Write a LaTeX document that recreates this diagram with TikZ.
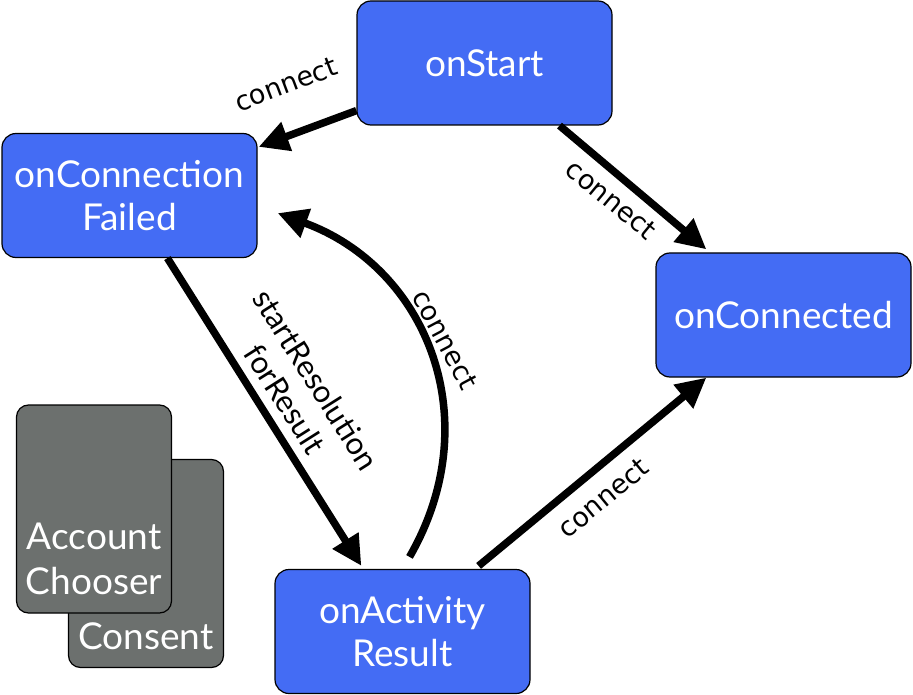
\documentclass[tikz,border=0pt]{standalone}
\usepackage{fontspec}
\setmainfont{Lato}
\newfontfamily\labelfont{DejaVu Sans}
\usetikzlibrary{arrows.meta, positioning}

\definecolor{stateblue}{RGB}{68,108,244}
\definecolor{cardgray}{RGB}{108,112,110}

\begin{document}
\begin{tikzpicture}[x=1pt, y=1pt,
  statebox/.style={draw=black, line width=1.2pt, fill=stateblue, rounded corners=14pt, minimum width=255pt, minimum height=124pt, text=white, font=\fontsize{37}{43}\selectfont, align=center},
  cardbox/.style={draw=black, line width=1.2pt, fill=cardgray, rounded corners=12pt, minimum width=155pt, minimum height=208pt},
  cardtext/.style={text=white, inner sep=0pt, font=\fontsize{37}{45}\selectfont, align=center},
  flow/.style={line width=7.5pt, -{Triangle[length=30pt, width=29pt]}},
  edgelabel/.style={inner sep=0pt, font=\labelfont\fontsize{27}{32}\selectfont},
  steplabel/.style={inner sep=0pt, font=\fontsize{31}{37}\selectfont, align=center}
]
\useasboundingbox (0,0) rectangle (913,-695);

% state boxes
\node[statebox] (onStart) at (484.5,-63) {onStart};
\node[statebox] (failed) at (129.5,-195.5) {onConnection\\Failed};
\node[statebox] (connected) at (783.5,-315) {onConnected};
\node[statebox] (activity) at (402.5,-631.5) {onActivity\\Result};

% dialog cards
\node[cardbox] (consent) at (146,-563.5) {};
\node[cardbox] (chooser) at (94,-509) {};
\node[cardtext, above=18pt of consent.south] (consentText) {Consent};
\node[cardtext, above=19pt of chooser.south] (chooserText) {Account\\Chooser};

% transitions
\draw[flow] ([yshift=15pt]onStart.south west) -- ([xshift=1pt,yshift=-14pt]failed.north east)
  node[edgelabel, pos=0.67, rotate=20.7, above=38pt] (lblFail) {connect};
\draw[flow] ([xshift=75pt]onStart.south) -- ([xshift=51pt,yshift=3pt]connected.north west)
  node[edgelabel, pos=0.41, rotate=-39.5, below=13pt] (lblStart) {connect};
\draw[flow] ([xshift=166pt]failed.south west) -- ([xshift=87pt,yshift=3pt]activity.north west)
  node[steplabel, pos=0.54, rotate=-57.7, above=17pt] (lblResolve) {startResolution\\forResult};
\draw[flow] ([xshift=7pt,yshift=12pt]activity.north) to[out=60, in=-20, looseness=1.1]
  node[edgelabel, pos=0.47, rotate=-62, above=19pt] (lblRetry) {connect}
  ([xshift=20pt,yshift=45pt]failed.south east);
\draw[flow] ([xshift=-52pt,yshift=3pt]activity.north east) -- ([xshift=51pt]connected.south west)
  node[edgelabel, pos=0.51, rotate=39.5, below=18pt] (lblResult) {connect};

\end{tikzpicture}
\end{document}
